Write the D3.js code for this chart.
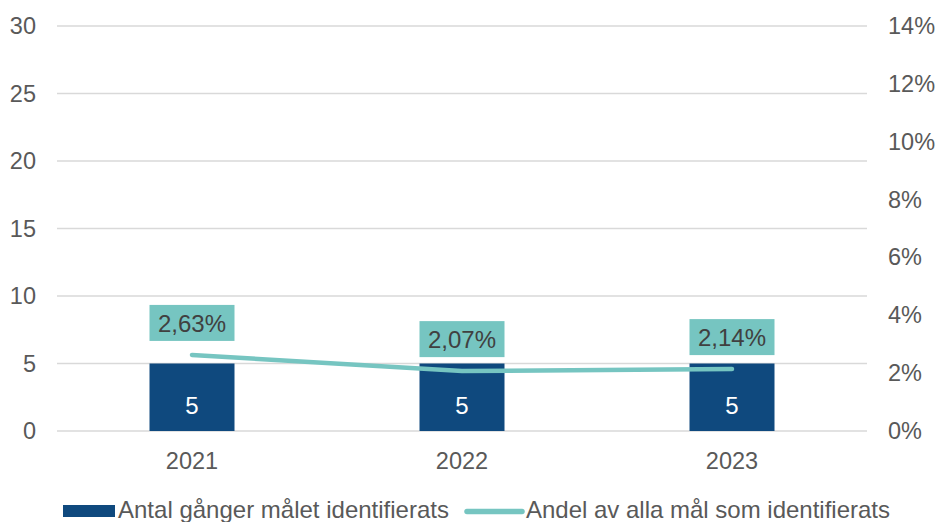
<!DOCTYPE html>
<html>
<head>
<meta charset="utf-8">
<script src="https://cdn.jsdelivr.net/npm/d3@7"></script>
<style>
  html, body { margin: 0; padding: 0; background: #fff; }
  svg { display: block; font-family: "Liberation Sans", Arial, sans-serif; }
</style>
</head>
<body>
<svg id="chart" width="937" height="522"></svg>
<script>
// Data
const years = ["2021", "2022", "2023"];
const counts = [5, 5, 5];
const shares = [2.63, 2.07, 2.14];
const countTicks = [0, 5, 10, 15, 20, 25, 30];
const shareTicks = [0, 2, 4, 6, 8, 10, 12, 14];
const seriesNames = ["Antal gånger målet identifierats", "Andel av alla mål som identifierats"];

const BLUE = "#0F497E";
const TEAL = "#76C5C1";
const GRID = "#D9D9D9";
const TEXT = "#595959";
const FONT = "Liberation Sans, Arial, sans-serif";

const svg = d3.select("#chart");
const plotLeft = 57, plotRight = 867, plotTop = 26, plotBottom = 431;

const x = d3.scaleBand().domain(years).range([plotLeft, plotRight]).paddingInner(0).paddingOuter(0);
const yL = d3.scaleLinear().domain([0, 30]).range([plotBottom, plotTop]);
const yR = d3.scaleLinear().domain([0, 14]).range([plotBottom, plotTop]);
const barW = 85;
const fmtPct = v => d3.format(".2f")(v).replace(".", ",") + "%";

// Gridlines
svg.append("g").selectAll("line").data(countTicks).join("line")
  .attr("x1", plotLeft).attr("x2", plotRight)
  .attr("y1", d => yL(d)).attr("y2", d => yL(d))
  .attr("stroke", GRID).attr("stroke-width", 1.5);

// Left axis labels
const axL = svg.append("g").attr("transform", `translate(${plotLeft},0)`)
  .call(d3.axisLeft(yL).tickValues(countTicks).tickSize(0).tickPadding(21));
axL.select(".domain").remove();
axL.selectAll("text").attr("font-size", 23.5).attr("fill", TEXT).attr("font-family", FONT);

// Right axis labels
const axR = svg.append("g").attr("transform", `translate(${plotRight},0)`)
  .call(d3.axisRight(yR).tickValues(shareTicks).tickSize(0).tickPadding(21).tickFormat(d => d + "%"));
axR.select(".domain").remove();
axR.selectAll("text").attr("font-size", 23.5).attr("fill", TEXT).attr("font-family", FONT);

// Bottom axis labels
const axB = svg.append("g").attr("transform", `translate(0,${plotBottom})`)
  .call(d3.axisBottom(x).tickSize(0).tickPadding(21));
axB.select(".domain").remove();
axB.selectAll("text").attr("font-size", 23.5).attr("fill", TEXT).attr("font-family", FONT);

// Bars
const cx = d => x(d) + x.bandwidth() / 2;
svg.append("g").selectAll("rect").data(years).join("rect")
  .attr("x", d => cx(d) - barW / 2)
  .attr("y", (d, i) => yL(counts[i]))
  .attr("width", barW)
  .attr("height", (d, i) => yL(0) - yL(counts[i]))
  .attr("fill", BLUE);

// Bar value labels
svg.append("g").selectAll("text").data(years).join("text")
  .attr("x", d => cx(d))
  .attr("y", yL(0) - 25)
  .attr("dy", "0.35em")
  .attr("text-anchor", "middle")
  .attr("font-size", 24).attr("fill", "#fff")
  .text((d, i) => counts[i]);

// Share line
const line = d3.line().x(d => cx(d.year)).y(d => yR(d.v));
const pts = years.map((y, i) => ({ year: y, v: shares[i] }));
svg.append("path").datum(pts)
  .attr("d", line)
  .attr("fill", "none").attr("stroke", TEAL)
  .attr("stroke-width", 4.5).attr("stroke-linecap", "round").attr("stroke-linejoin", "round");

// Share labels in boxes
const lab = svg.append("g").selectAll("g").data(pts).join("g")
  .attr("transform", d => `translate(${cx(d.year)},${yR(d.v) - 14})`);
lab.append("rect")
  .attr("x", -barW / 2).attr("y", -36).attr("width", barW).attr("height", 36)
  .attr("fill", TEAL);
lab.append("text")
  .attr("x", 0).attr("y", -18).attr("dy", "0.36em")
  .attr("text-anchor", "middle").attr("font-size", 24).attr("fill", "#404040")
  .text(d => fmtPct(d.v));

// Legend
const lg = svg.append("g");
lg.append("rect").attr("x", 63).attr("y", 505).attr("width", 52).attr("height", 12).attr("fill", BLUE);
lg.append("text").attr("x", 118).attr("y", 518).attr("font-size", 24).attr("fill", TEXT)
  .attr("textLength", 331).attr("lengthAdjust", "spacingAndGlyphs")
  .text(seriesNames[0]);
lg.append("line").attr("x1", 467).attr("x2", 522).attr("y1", 511.5).attr("y2", 511.5)
  .attr("stroke", TEAL).attr("stroke-width", 5.5).attr("stroke-linecap", "round");
lg.append("text").attr("x", 526).attr("y", 518).attr("font-size", 24).attr("fill", TEXT)
  .attr("textLength", 364).attr("lengthAdjust", "spacingAndGlyphs")
  .text(seriesNames[1]);
</script>
</body>
</html>
